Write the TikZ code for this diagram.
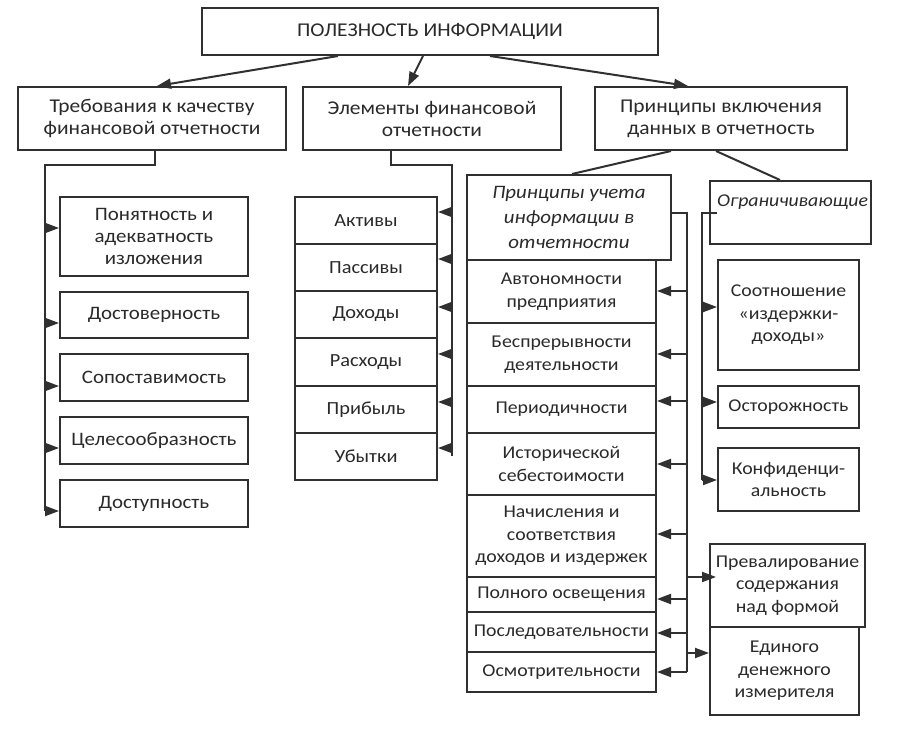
\documentclass[tikz,border=0pt]{standalone}
\usepackage{fontspec}
\setmainfont[FakeStretch=1.1]{Carlito}
\usetikzlibrary{arrows.meta}
\definecolor{lc}{HTML}{303030}
\definecolor{tc}{HTML}{2A2A2A}
\newcommand\dfont{\fontsize{19}{22}\selectfont}
\newcommand\tfont{\fontsize{19.5}{22}\selectfont}
\newcommand\mfont{\fontsize{18.5}{22}\selectfont}
\newcommand\rfont{\fontsize{18}{22.5}\selectfont}
\begin{document}
\begin{tikzpicture}[x=1pt,y=-1pt,
  box/.style={draw=lc, line width=2pt, inner sep=1pt, align=center, text=tc, font=\dfont},
  mbox/.style={box, font=\mfont},
  rbox/.style={box, font=\rfont},
  ln/.style={draw=lc, line width=2pt}]
\tikzset{arr/.style={draw=lc, line width=2pt, arrows={-Triangle[length=14pt,width=10pt]}}}
\fill[white] (0,0) rectangle (910,738);
\useasboundingbox (0,0) rectangle (910,738);
% top
\node[box, font=\tfont, minimum width=456, minimum height=47] (top) at (430,31.5) {ПОЛЕЗНОСТЬ ИНФОРМАЦИИ};
% level 2
\node[box, font=\tfont, minimum width=268, minimum height=63] (req) at (152,118.5) {Требования к качеству\\финансовой отчетности};
\node[box, font=\tfont, minimum width=258, minimum height=63] (elem) at (432,118.5) {Элементы финансовой\\отчетности};
\node[box, font=\tfont, minimum width=252, minimum height=63] (prin) at (721,118.5) {Принципы включения\\данных в отчетность};
% left column
\node[box, minimum width=188, minimum height=79] (p1) at (154,236.5) {Понятность и\\адекватность\\изложения};
\node[box, minimum width=188, minimum height=46] (p2) at (154,315) {Достоверность};
\node[box, minimum width=188, minimum height=47] (p3) at (154,377.5) {Сопоставимость};
\node[box, minimum width=188, minimum height=47] (p4) at (154,440.5) {Целесообразность};
\node[box, minimum width=188, minimum height=47] (p5) at (154,503.5) {Доступность};
% middle column
\node[mbox, minimum width=142, minimum height=47] (e1) at (366,220.5) {Активы};
\node[mbox, minimum width=142, minimum height=47] (e2) at (366,267.5) {Пассивы};
\node[mbox, minimum width=142, minimum height=47] (e3) at (366,314.5) {Доходы};
\node[mbox, minimum width=142, minimum height=48] (e4) at (366,362) {Расходы};
\node[mbox, minimum width=142, minimum height=47] (e5) at (366,409.5) {Прибыль};
\node[mbox, minimum width=142, minimum height=47] (e6) at (366,456.5) {Убытки};
% right stack
\node[box, minimum width=204, minimum height=85, font=\fontsize{19}{25}\selectfont\itshape] (acc) at (569,217.5) {Принципы учета\\информации в\\отчетности};
\node[rbox, minimum width=189, minimum height=63] (r1) at (561.5,291.5) {Автономности\\предприятия};
\node[rbox, minimum width=189, minimum height=63] (r2) at (561.5,354.5) {Беспрерывности\\деятельности};
\node[rbox, minimum width=189, minimum height=47] (r3) at (561.5,409.5) {Периодичности};
\node[rbox, minimum width=189, minimum height=62] (r4) at (561.5,464) {Исторической\\себестоимости};
\node[rbox, minimum width=189, minimum height=82] (r5) at (561.5,536) {Начисления и\\соответствия\\доходов и издержек};
\node[rbox, minimum width=189, minimum height=35] (r6) at (561.5,594.5) {Полного освещения};
\node[rbox, minimum width=189, minimum height=40] (r7) at (561.5,632) {Последовательности};
\node[rbox, minimum width=189, minimum height=40] (r8) at (561.5,672) {Осмотрительности};
% limiting
\node[box, minimum width=161, minimum height=63] (ogr) at (790.5,212.5) {};
\node[anchor=west, inner sep=0pt, text=tc, font=\rfont\itshape] (ogrt) at (717,202) {Ограничивающие};
\node[rbox, minimum width=141, minimum height=110] (s1) at (788.5,315) {Соотношение\\«издержки-\\доходы»};
\node[rbox, minimum width=141, minimum height=42] (s2) at (788.5,407) {Осторожность};
\node[rbox, minimum width=141, minimum height=63] (s3) at (788.5,479.5) {Конфиденци-\\альность};
\node[rbox, minimum width=155, minimum height=83] (s4) at (787.5,585.5) {Превалирование\\содержания\\над формой};
\node[rbox, minimum width=149, minimum height=88] (s5) at (784.5,671) {Единого\\денежного\\измерителя};
% top arrows
\draw[arr] (338,0 |- top.south) -- (157,0 |- req.north);
\draw[arr] (423,0 |- top.south) -- (408,0 |- elem.north);
\draw[arr] (490,0 |- top.south) -- (688,0 |- prin.north);
% left branch
\coordinate (lt) at (45,165);
\draw[ln] (155,0 |- req.south) -- (155,165) -- (lt) -- (45,511);
\foreach \n/\y in {p1/228,p2/323,p3/386,p4/448,p5/511}
  \draw[arr] (lt |- 0,\y) -- (\n.west |- 0,\y);
% middle branch
\coordinate (mt) at (452,165);
\draw[ln] (391,0 |- elem.south) -- (391,165) -- (mt) -- (452,456);
\foreach \n/\y in {e1/212,e2/259,e3/307,e4/354,e5/402,e6/448}
  \draw[arr] (mt |- 0,\y) -- (\n.east |- 0,\y);
% right branch
\draw[ln] (671,0 |- prin.south) -- (572,0 |- acc.north);
\draw[ln] (716,0 |- prin.south) -- (780,0 |- ogr.north);
\coordinate (rt) at (687,213);
\draw[ln] (acc.east |- rt) -- (rt) -- (687,672);
\foreach \n/\y in {r1/291,r2/354,r3/401,r4/464,r5/534,r6/599,r7/633,r8/672}
  \draw[arr] (rt |- 0,\y) -- (\n.east |- 0,\y);
\draw[arr] (rt |- 0,577) -- ([xshift=7pt]s4.west |- 0,577);
\draw[arr] (rt |- 0,653) -- (s5.west |- 0,653);
\coordinate (gt) at (702,213);
\draw[ln] ([xshift=8pt]ogr.west |- gt) -- (gt) -- (702,480);
\foreach \n/\y in {s1/307,s2/402,s3/480}
  \draw[arr] (gt |- 0,\y) -- (\n.west |- 0,\y);
\end{tikzpicture}
\end{document}
